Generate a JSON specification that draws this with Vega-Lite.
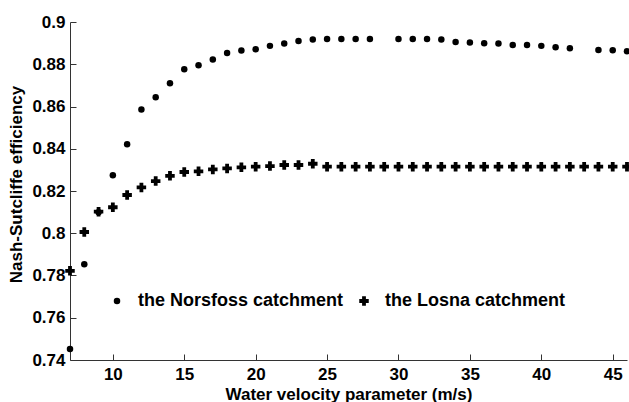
{
  "$schema": "https://vega.github.io/schema/vega-lite/v6.json",
  "width": 557,
  "height": 338,
  "autosize": {"type": "none"},
  "padding": {"left": 70, "top": 22, "right": 2, "bottom": 42},
  "background": "white",
  "config": {
    "view": {"stroke": null},
    "font": "Liberation Sans",
    "axis": {
      "grid": false,
      "domainColor": "#333333",
      "tickColor": "#333333",
      "tickSize": -6,
      "labelFont": "Liberation Sans",
      "labelFontWeight": "bold",
      "labelFontSize": 17,
      "labelColor": "black",
      "titleFont": "Liberation Sans",
      "titleFontWeight": "bold",
      "titleFontSize": 17,
      "titleColor": "black"
    }
  },
  "data": {
    "values": [
      {"v": 7, "nse": 0.7452, "series": "the Norsfoss catchment"},
      {"v": 8, "nse": 0.7853, "series": "the Norsfoss catchment"},
      {"v": 9, "nse": 0.8099, "series": "the Norsfoss catchment"},
      {"v": 10, "nse": 0.8275, "series": "the Norsfoss catchment"},
      {"v": 11, "nse": 0.8421, "series": "the Norsfoss catchment"},
      {"v": 12, "nse": 0.8586, "series": "the Norsfoss catchment"},
      {"v": 13, "nse": 0.8644, "series": "the Norsfoss catchment"},
      {"v": 14, "nse": 0.871, "series": "the Norsfoss catchment"},
      {"v": 15, "nse": 0.8776, "series": "the Norsfoss catchment"},
      {"v": 16, "nse": 0.8795, "series": "the Norsfoss catchment"},
      {"v": 17, "nse": 0.8822, "series": "the Norsfoss catchment"},
      {"v": 18, "nse": 0.8853, "series": "the Norsfoss catchment"},
      {"v": 19, "nse": 0.8865, "series": "the Norsfoss catchment"},
      {"v": 20, "nse": 0.8871, "series": "the Norsfoss catchment"},
      {"v": 21, "nse": 0.8887, "series": "the Norsfoss catchment"},
      {"v": 22, "nse": 0.8898, "series": "the Norsfoss catchment"},
      {"v": 23, "nse": 0.891, "series": "the Norsfoss catchment"},
      {"v": 24, "nse": 0.8917, "series": "the Norsfoss catchment"},
      {"v": 25, "nse": 0.892, "series": "the Norsfoss catchment"},
      {"v": 26, "nse": 0.892, "series": "the Norsfoss catchment"},
      {"v": 27, "nse": 0.892, "series": "the Norsfoss catchment"},
      {"v": 28, "nse": 0.892, "series": "the Norsfoss catchment"},
      {"v": 30, "nse": 0.892, "series": "the Norsfoss catchment"},
      {"v": 31, "nse": 0.892, "series": "the Norsfoss catchment"},
      {"v": 32, "nse": 0.892, "series": "the Norsfoss catchment"},
      {"v": 33, "nse": 0.8917, "series": "the Norsfoss catchment"},
      {"v": 34, "nse": 0.8905, "series": "the Norsfoss catchment"},
      {"v": 35, "nse": 0.8903, "series": "the Norsfoss catchment"},
      {"v": 36, "nse": 0.8899, "series": "the Norsfoss catchment"},
      {"v": 37, "nse": 0.8898, "series": "the Norsfoss catchment"},
      {"v": 38, "nse": 0.8891, "series": "the Norsfoss catchment"},
      {"v": 39, "nse": 0.8891, "series": "the Norsfoss catchment"},
      {"v": 40, "nse": 0.8887, "series": "the Norsfoss catchment"},
      {"v": 41, "nse": 0.888, "series": "the Norsfoss catchment"},
      {"v": 42, "nse": 0.8876, "series": "the Norsfoss catchment"},
      {"v": 44, "nse": 0.8868, "series": "the Norsfoss catchment"},
      {"v": 45, "nse": 0.8866, "series": "the Norsfoss catchment"},
      {"v": 46, "nse": 0.8862, "series": "the Norsfoss catchment"},
      {"v": 7, "nse": 0.7822, "series": "the Losna catchment"},
      {"v": 8, "nse": 0.8006, "series": "the Losna catchment"},
      {"v": 9, "nse": 0.8102, "series": "the Losna catchment"},
      {"v": 10, "nse": 0.8123, "series": "the Losna catchment"},
      {"v": 11, "nse": 0.8181, "series": "the Losna catchment"},
      {"v": 12, "nse": 0.8217, "series": "the Losna catchment"},
      {"v": 13, "nse": 0.8247, "series": "the Losna catchment"},
      {"v": 14, "nse": 0.8272, "series": "the Losna catchment"},
      {"v": 15, "nse": 0.829, "series": "the Losna catchment"},
      {"v": 16, "nse": 0.8293, "series": "the Losna catchment"},
      {"v": 17, "nse": 0.8302, "series": "the Losna catchment"},
      {"v": 18, "nse": 0.8307, "series": "the Losna catchment"},
      {"v": 19, "nse": 0.8312, "series": "the Losna catchment"},
      {"v": 20, "nse": 0.8315, "series": "the Losna catchment"},
      {"v": 21, "nse": 0.8318, "series": "the Losna catchment"},
      {"v": 22, "nse": 0.8323, "series": "the Losna catchment"},
      {"v": 23, "nse": 0.8323, "series": "the Losna catchment"},
      {"v": 24, "nse": 0.8329, "series": "the Losna catchment"},
      {"v": 25, "nse": 0.8315, "series": "the Losna catchment"},
      {"v": 26, "nse": 0.8315, "series": "the Losna catchment"},
      {"v": 27, "nse": 0.8315, "series": "the Losna catchment"},
      {"v": 28, "nse": 0.8315, "series": "the Losna catchment"},
      {"v": 29, "nse": 0.8315, "series": "the Losna catchment"},
      {"v": 30, "nse": 0.8315, "series": "the Losna catchment"},
      {"v": 31, "nse": 0.8315, "series": "the Losna catchment"},
      {"v": 32, "nse": 0.8315, "series": "the Losna catchment"},
      {"v": 33, "nse": 0.8315, "series": "the Losna catchment"},
      {"v": 34, "nse": 0.8315, "series": "the Losna catchment"},
      {"v": 35, "nse": 0.8315, "series": "the Losna catchment"},
      {"v": 36, "nse": 0.8315, "series": "the Losna catchment"},
      {"v": 37, "nse": 0.8315, "series": "the Losna catchment"},
      {"v": 38, "nse": 0.8315, "series": "the Losna catchment"},
      {"v": 39, "nse": 0.8315, "series": "the Losna catchment"},
      {"v": 40, "nse": 0.8315, "series": "the Losna catchment"},
      {"v": 41, "nse": 0.8315, "series": "the Losna catchment"},
      {"v": 42, "nse": 0.8315, "series": "the Losna catchment"},
      {"v": 43, "nse": 0.8315, "series": "the Losna catchment"},
      {"v": 44, "nse": 0.8315, "series": "the Losna catchment"},
      {"v": 45, "nse": 0.8315, "series": "the Losna catchment"},
      {"v": 46, "nse": 0.8315, "series": "the Losna catchment"}
    ]
  },
  "mark": {"type": "point", "filled": true, "opacity": 1, "clip": false},
  "encoding": {
    "x": {
      "field": "v",
      "type": "quantitative",
      "scale": {"domain": [7, 46], "nice": false, "zero": false},
      "axis": {
        "title": "Water velocity parameter (m/s)",
        "values": [10, 15, 20, 25, 30, 35, 40, 45],
        "labelPadding": 12,
        "titleBaseline": "alphabetic",
        "titleY": 39
      }
    },
    "y": {
      "field": "nse",
      "type": "quantitative",
      "scale": {"domain": [0.74, 0.9], "nice": false, "zero": false},
      "axis": {
        "title": "Nash-Sutcliffe efficiency",
        "values": [0.74, 0.76, 0.78, 0.8, 0.82, 0.84, 0.86, 0.88, 0.9],
        "format": ".2~f",
        "labelPadding": 11,
        "titleBaseline": "alphabetic",
        "titleX": -49,
        "titleY": 162
      }
    },
    "shape": {
      "field": "series",
      "type": "nominal",
      "scale": {"domain": ["the Norsfoss catchment", "the Losna catchment"], "range": ["circle", "cross"]},
      "legend": {
        "title": null,
        "orient": "none",
        "legendX": 38,
        "legendY": 270,
        "direction": "horizontal",
        "labelFont": "Liberation Sans",
        "labelFontWeight": "bold",
        "labelFontSize": 18,
        "labelColor": "black",
        "labelLimit": 400,
        "labelOffset": 12,
        "columnPadding": 11,
        "symbolStrokeWidth": 0
      }
    },
    "size": {
      "field": "series",
      "type": "nominal",
      "scale": {"domain": ["the Norsfoss catchment", "the Losna catchment"], "range": [42, 90]},
      "legend": {
        "title": null,
        "orient": "none",
        "legendX": 38,
        "legendY": 270,
        "direction": "horizontal"
      }
    },
    "color": {"value": "black"}
  }
}
